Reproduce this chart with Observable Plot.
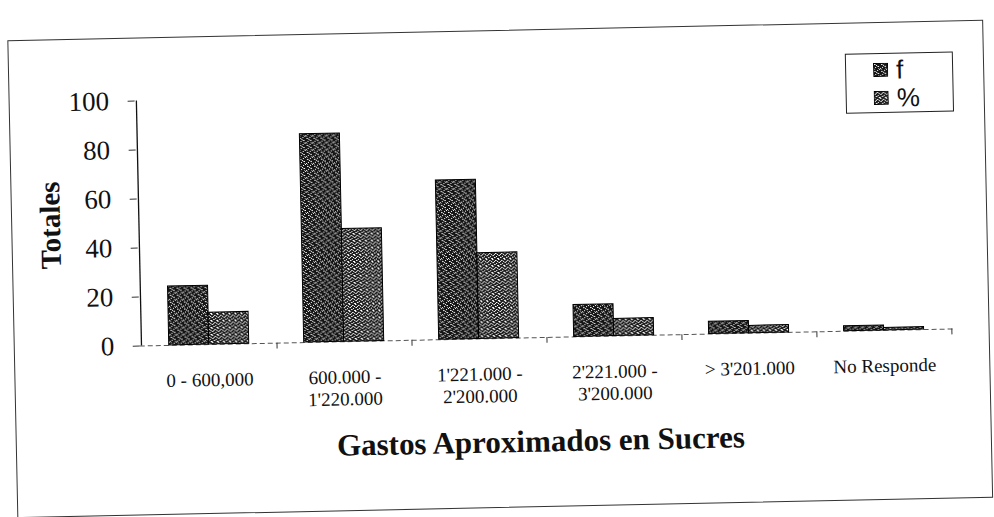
<!DOCTYPE html>
<html>
<head>
<meta charset="utf-8">
<script src="https://cdn.jsdelivr.net/npm/d3@7"></script>
<script src="https://cdn.jsdelivr.net/npm/@observablehq/plot@0.6"></script>
<style>
  html, body { margin: 0; padding: 0; background: #fff; }
  #wrap { position: relative; width: 994px; height: 517px; overflow: hidden; background: #fff; }
  #page { position: absolute; left: 0; top: 0; width: 994px; height: 517px;
          transform: rotate(-1.2deg); transform-origin: 497px 258px; }
  #frame { position: absolute; left: 12px; top: 30px; width: 976px; height: 478px;
           border: 1px solid #333; box-sizing: border-box; }
  #chart { position: absolute; left: 0; top: 0; }
  #legend { position: absolute; left: 849px; top: 61px; width: 108px; height: 60px;
            border: 1px solid #222; box-sizing: border-box; background: #fff;
            font-family: "Liberation Sans", Arial, sans-serif; font-size: 26px; color: #111; }
  #legend .row { position: absolute; left: 27px; display: flex; align-items: center; height: 28px; }
  #legend svg { margin-right: 8px; display: block; }
</style>
</head>
<body>
<div id="wrap"><div id="page">
  <div id="frame"></div>
  <div id="chart"></div>
  <div id="legend"></div>
</div></div>
<script>
// ---- data ----
const categories = [
  "0 - 600,000",
  "600.000 -\n1'220.000",
  "1'221.000 -\n2'200.000",
  "2'221.000 -\n3'200.000",
  "> 3'201.000",
  "No Responde"
];
const seriesNames = ["f", "%"];
const fValues = [24, 85, 65, 13, 5, 2];
const pctValues = [13, 46, 35, 7, 3, 1];
const yTicks = [0, 20, 40, 60, 80, 100];
const yLabel = "Totales";
const xLabel = "Gastos Aproximados en Sucres";

const rowsF = categories.map((c, i) => ({cat: c, series: seriesNames[0], value: fValues[i]}));
const rowsP = categories.map((c, i) => ({cat: c, series: seriesNames[1], value: pctValues[i]}));

// ---- layout ----
const W = 994, H = 517, mL = 138, mR = 43, mT = 93, mB = 179;
const padIn = 0.41;
const step = (W - mL - mR) / categories.length;
const half = step * (1 - padIn) / 2;

const chart = Plot.plot({
  width: W, height: H,
  marginLeft: mL, marginRight: mR, marginTop: mT, marginBottom: mB,
  style: {fontFamily: '"Liberation Serif","Times New Roman",serif', background: "none", color: "#111"},
  x: {domain: categories, paddingInner: padIn, paddingOuter: padIn / 2, axis: null},
  y: {domain: [0, 100]},
  marks: [
    Plot.ruleY([0], {stroke: "#555", strokeDasharray: "5,3"}),
    Plot.ruleX(categories, {x: d => d, y1: 0, y2: -2.4, dx: step / 2, stroke: "#333"}),
    Plot.ruleX([categories[0]], {x: d => d, y1: 0, y2: 100, dx: -step / 2, stroke: "#111", strokeWidth: 1.3}),
    Plot.barY(rowsF, {x: "cat", y: "value", insetRight: half, fill: "url(#pat-f)", stroke: "#000", strokeWidth: 1}),
    Plot.barY(rowsP, {x: "cat", y: "value", insetLeft: half, fill: "url(#pat-p)", stroke: "#000", strokeWidth: 1}),
    Plot.axisY({ticks: yTicks, tickSize: 7, tickPadding: 19, fontSize: 27, label: null, stroke: "#333"}),
    Plot.text(categories, {x: d => d, frameAnchor: "bottom", lineAnchor: "top", dy: 26,
                           fontSize: 19, lineHeight: 1.16, fill: "#111"}),
    Plot.text([yLabel], {frameAnchor: "left", textAnchor: "middle", lineAnchor: "middle", rotate: -90, dx: -87,
                         fontSize: 29, fontWeight: "bold", fill: "#111"}),
    Plot.text([xLabel], {frameAnchor: "bottom", textAnchor: "middle", lineAnchor: "middle", dy: 104, dx: -8,
                         fontSize: 31, fontWeight: "bold", fill: "#111"})
  ]
});

// speckled textures for the bars
const defs = d3.select(chart).insert("defs", ":first-child");
function addPattern(id, w, h, base, white, grey) {
  const p = defs.append("pattern").attr("id", id).attr("patternUnits", "userSpaceOnUse")
    .attr("width", w).attr("height", h);
  p.append("rect").attr("width", w).attr("height", h).attr("fill", base);
  white.forEach(([x, y]) => p.append("rect").attr("x", x).attr("y", y).attr("width", 1).attr("height", 1).attr("fill", "#fff"));
  grey.forEach(([x, y]) => p.append("rect").attr("x", x).attr("y", y).attr("width", 1).attr("height", 1).attr("fill", "#999"));
}
addPattern("pat-f", 7, 7, "#151515",
  [[1,1],[4,0],[5,3],[2,4],[0,5],[6,6],[3,2]],
  [[2,1],[5,5],[1,6],[4,3]]);
addPattern("pat-p", 6, 7, "#1c1c1c",
  [[0,0],[3,1],[5,2],[1,3],[4,4],[2,5],[0,6],[5,6],[2,2]],
  [[1,0],[4,1],[3,5],[0,3]]);

document.getElementById("chart").appendChild(chart);

// legend
const legend = document.getElementById("legend");
const legendFills = ["url(#pat-f)", "url(#pat-p)"];
seriesNames.forEach((s, i) => {
  const row = document.createElement("div");
  row.className = "row";
  row.style.top = (2 + i * 28) + "px";
  const sw = d3.create("svg").attr("width", 15).attr("height", 14);
  sw.append("rect").attr("x", 0.5).attr("y", 0.5).attr("width", 14).attr("height", 13)
    .attr("fill", legendFills[i]).attr("stroke", "#000");
  const t = document.createElement("span");
  t.textContent = s;
  row.appendChild(sw.node());
  row.appendChild(t);
  legend.appendChild(row);
});
</script>
</body>
</html>
